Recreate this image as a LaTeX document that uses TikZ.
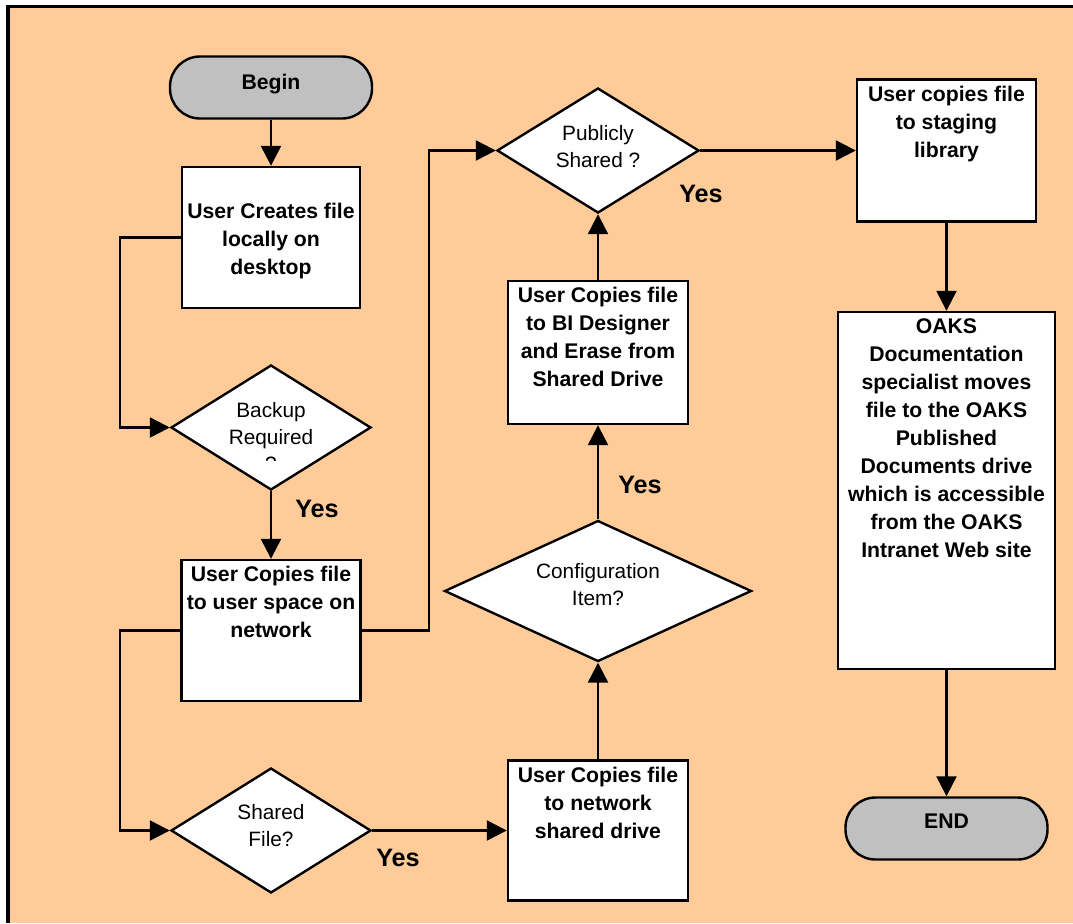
\documentclass[tikz,border=0pt]{standalone}
\usepackage{fontspec}
\setmainfont{Liberation Sans}
\usetikzlibrary{shapes.geometric,arrows.meta,positioning}
\definecolor{peach}{HTML}{FFCC99}
\definecolor{termgray}{HTML}{C0C0C0}
\begin{document}
\begin{tikzpicture}[x=0.5pt,y=-0.5pt]
                      \tikzstyle{box}=[rectangle,draw=black,line width=1.2pt,fill=white,inner sep=0pt,align=center,font=\fontsize{10.6}{14}\selectfont\bfseries]
                      \tikzstyle{txt}=[inner sep=0pt,align=center,font=\fontsize{10.6}{14}\selectfont\bfseries]
                      \tikzstyle{term}=[rectangle,rounded corners=15pt,draw=black,line width=1.2pt,fill=termgray,minimum width=101pt,minimum height=31pt,font=\fontsize{10.6}{14}\selectfont\bfseries]
                      \tikzstyle{decision}=[diamond,aspect=1.6,draw=black,line width=1.2pt,fill=white,inner sep=0pt,align=center,font=\fontsize{10.4}{13.5}\selectfont]
                      \tikzstyle{flow}=[line width=1.2pt,-{Triangle[length=10pt,width=10pt]}]
                      \tikzstyle{yes}=[inner sep=0pt,font=\fontsize{12.6}{15}\selectfont\bfseries]
                      \useasboundingbox (0,0) rectangle (1073,923);
                      \fill[white] (0,0) rectangle (1073,923);
                      \fill[peach] (8,6.5) rectangle (1073,923);
                      \draw[line width=1.8pt] (8,923) -- (8,6.5) -- (1073,6.5);
                      \node[term,text depth=5.5pt] (begin) at (271,87.5) {Begin};
                      \node[box,minimum width=89pt,minimum height=70.5pt] (create) at (271,237.5) {};
                      \node[txt] (createtxt) at (271,241) {User Creates file\\locally on\\desktop};
                      \node[decision,minimum width=100pt,minimum height=62.5pt] (backup) at (271,427.5) {};
                      \begin{scope}
                        \clip (180,380) rectangle (365,460);
                        \node[txt,font=\fontsize{10.4}{13.5}\selectfont] (backuptxt) at (271,437) {Backup\\Required\\?};
                      \end{scope}
                      \node[box,minimum width=89.5pt,minimum height=70.5pt] (copyuser) at (271,630.5) {};
                      \node[txt,below=3.6pt of copyuser.north] (copyusertxt) {User Copies file\\to user space on\\network};
                      \node[decision,minimum width=100pt,minimum height=62.5pt,text depth=5pt] (shared) at (271,830.5) {Shared\\File?};
                      \node[box,minimum width=90pt,minimum height=70pt] (netshare) at (598,830.5) {};
                      \node[txt,below=3.6pt of netshare.north] (netsharetxt) {User Copies file\\to network\\shared drive};
                      \node[decision,minimum width=153.5pt,minimum height=70.5pt,text depth=7pt] (config) at (598,591) {Configuration\\Item?};
                      \node[box,minimum width=90pt,minimum height=71.5pt] (bicopy) at (598,352.5) {};
                      \node[txt,below=3.6pt of bicopy.north] (bicopytxt) {User Copies file\\to BI Designer\\and Erase from\\Shared Drive};
                      \node[decision,minimum width=101pt,minimum height=62.5pt,text depth=4pt] (public) at (598,150.5) {Publicly\\Shared ?};
                      \node[box,minimum width=89.5pt,minimum height=71pt] (staging) at (946.5,150.5) {};
                      \node[txt,below=3.6pt of staging.north] (stagingtxt) {User copies file\\to staging\\library};
                      \node[box,minimum width=108.5pt,minimum height=178.5pt] (oaks) at (946.5,490.5) {};
                      \node[txt,below=3.6pt of oaks.north] (oakstxt) {OAKS\\Documentation\\specialist moves\\file to the OAKS\\Published\\Documents drive\\which is accessible\\from the OAKS\\Intranet Web site};
                      \node[term,text depth=7pt] (finish) at (946.5,828.5) {END};
                      \node[yes] (yes1) at (317,509) {Yes};
                      \node[yes] (yes2) at (398,858) {Yes};
                      \node[yes] (yes3) at (640,485) {Yes};
                      \node[yes] (yes4) at (701,194) {Yes};
                      \coordinate (lx) at (120,0);
                      \coordinate (mx) at (429,0);
                      \draw[flow] (begin) -- (create);
                      \draw[flow] (create.west) -- (create.west -| lx) |- (backup.west);
                      \draw[flow] (backup) -- (copyuser);
                      \draw[flow] (copyuser.west) -- (copyuser.west -| lx) |- (shared.west);
                      \draw[flow] (copyuser.east) -- (copyuser.east -| mx) |- (public.west);
                      \draw[flow] (shared) -- (netshare);
                      \draw[flow] (netshare) -- (config);
                      \draw[flow] (config) -- (bicopy);
                      \draw[flow] (bicopy) -- (public);
                      \draw[flow] (public) -- (staging);
                      \draw[flow] (staging) -- (oaks);
                      \draw[flow] (oaks) -- (finish);
                  \end{tikzpicture}
\end{document}
